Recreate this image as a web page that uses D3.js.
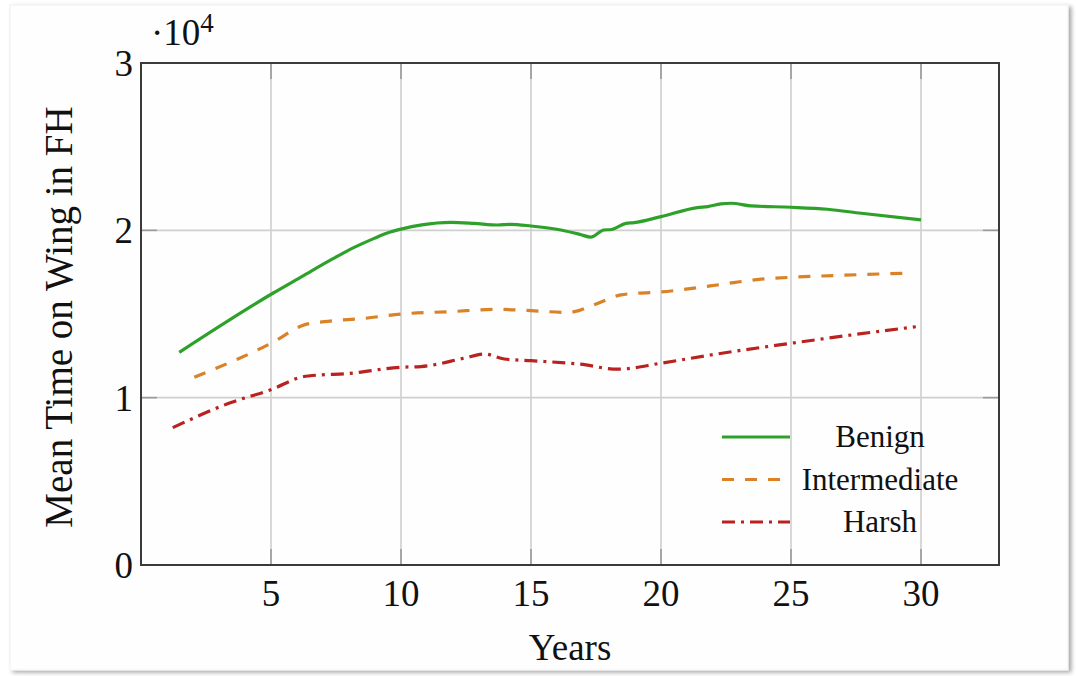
<!DOCTYPE html>
<html>
<head>
<meta charset="utf-8">
<script src="https://cdn.jsdelivr.net/npm/d3@7"></script>
<style>
  html, body { margin: 0; padding: 0; background: #fff; }
  svg { display: block; }
  text { font-family: "Liberation Serif", "Times New Roman", serif; fill: #111; }
</style>
</head>
<body>
<div id="chart"></div>
<script>
// values (y in units of 10^4 FH)
const benignYears = [1.47, 5.07, 6.2, 7.3, 8.2, 8.97, 9.5, 10, 10.8, 11.92, 12.8, 13.72, 14.2, 15, 16.15, 16.9, 17.3, 17.8, 18.1, 18.65, 18.97, 20, 21.4, 21.8, 22.3, 22.7, 23.46, 25, 26.4, 27.7, 30];
const benignValues = [1.271, 1.624, 1.725, 1.823, 1.898, 1.952, 1.985, 2.007, 2.033, 2.048, 2.042, 2.032, 2.036, 2.026, 2.002, 1.975, 1.959, 2.002, 2.005, 2.042, 2.046, 2.082, 2.136, 2.142, 2.158, 2.162, 2.146, 2.138, 2.126, 2.102, 2.062];

const intermediateYears = [2.05, 5.07, 6.28, 7.05, 8.6, 10, 11.9, 13.7, 15, 16.3, 16.67, 17.4, 18.46, 19.1, 20, 21.9, 23.85, 25.1, 27.05, 29.5];
const intermediateValues = [1.122, 1.331, 1.435, 1.454, 1.474, 1.500, 1.514, 1.528, 1.520, 1.510, 1.514, 1.554, 1.614, 1.624, 1.632, 1.668, 1.708, 1.720, 1.732, 1.744];

const harshYears = [1.22, 3.46, 5.07, 6.15, 6.9, 7.8, 10, 10.77, 12.43, 13.2, 13.97, 15, 16.9, 18.33, 20, 21.9, 25, 27.05, 29.8];
const harshValues = [0.821, 0.971, 1.052, 1.122, 1.136, 1.142, 1.182, 1.186, 1.236, 1.261, 1.231, 1.221, 1.200, 1.170, 1.206, 1.255, 1.325, 1.369, 1.424];

const seriesNames = ["Benign", "Intermediate", "Harsh"];
const xTicks = [5, 10, 15, 20, 25, 30];
const yTicks = [0, 1, 2, 3];

const width = 1076, height = 676;
const plot = { left: 141, right: 999, top: 63, bottom: 565 };

const svg = d3.select("#chart").append("svg")
    .attr("width", width)
    .attr("height", height);

// card with a soft shadow on the right / bottom
const defs = svg.append("defs");
const shadow = defs.append("filter").attr("id", "shadow")
    .attr("x", "-5%").attr("y", "-5%").attr("width", "110%").attr("height", "110%");
shadow.append("feDropShadow")
    .attr("dx", 3).attr("dy", 2).attr("stdDeviation", 2)
    .attr("flood-color", "#000").attr("flood-opacity", 0.35);

svg.append("rect")
    .attr("x", 10).attr("y", 5)
    .attr("width", 1058).attr("height", 665)
    .attr("fill", "#fefefe")
    .attr("stroke", "#f0f0f0")
    .attr("filter", "url(#shadow)");

const x = d3.scaleLinear().domain([0, 33]).range([plot.left, plot.right]);
const y = d3.scaleLinear().domain([0, 3]).range([plot.bottom, plot.top]);

// grid
const grid = svg.append("g");
grid.selectAll(".vgrid").data(xTicks).enter().append("line")
    .attr("x1", d => x(d)).attr("x2", d => x(d))
    .attr("y1", plot.top).attr("y2", plot.bottom)
    .attr("stroke", "#cfcfcf").attr("stroke-width", 1.6);
grid.selectAll(".hgrid").data(yTicks.filter(d => d > 0 && d < 3)).enter().append("line")
    .attr("x1", plot.left).attr("x2", plot.right)
    .attr("y1", d => y(d)).attr("y2", d => y(d))
    .attr("stroke", "#cfcfcf").attr("stroke-width", 1.6);

// inward tick marks on all four sides
const tickLen = 16;
const ticks = svg.append("g").attr("stroke", "#9a9a9a").attr("stroke-width", 1.6);
xTicks.forEach(t => {
    ticks.append("line").attr("x1", x(t)).attr("x2", x(t))
        .attr("y1", plot.bottom).attr("y2", plot.bottom - tickLen);
    ticks.append("line").attr("x1", x(t)).attr("x2", x(t))
        .attr("y1", plot.top).attr("y2", plot.top + tickLen);
});
yTicks.filter(d => d > 0 && d < 3).forEach(t => {
    ticks.append("line").attr("x1", plot.left).attr("x2", plot.left + tickLen)
        .attr("y1", y(t)).attr("y2", y(t));
    ticks.append("line").attr("x1", plot.right).attr("x2", plot.right - tickLen)
        .attr("y1", y(t)).attr("y2", y(t));
});

// series
const series = [
    { name: seriesNames[0], xs: benignYears, ys: benignValues, color: "#2ea12a", dash: null },
    { name: seriesNames[1], xs: intermediateYears, ys: intermediateValues, color: "#d98228", dash: "12,11" },
    { name: seriesNames[2], xs: harshYears, ys: harshValues, color: "#b8231f", dash: "13,6,3,6" }
];

const line = d3.line()
    .curve(d3.curveMonotoneX)
    .x(d => x(d[0]))
    .y(d => y(d[1]));

svg.append("g").selectAll("path")
    .data(series)
    .enter()
    .append("path")
    .attr("d", s => line(s.xs.map((v, i) => [v, s.ys[i]])))
    .attr("fill", "none")
    .attr("stroke", s => s.color)
    .attr("stroke-width", 3.2)
    .attr("stroke-linejoin", "round")
    .attr("stroke-dasharray", s => s.dash);

// frame
svg.append("rect")
    .attr("x", plot.left).attr("y", plot.top)
    .attr("width", plot.right - plot.left)
    .attr("height", plot.bottom - plot.top)
    .attr("fill", "none")
    .attr("stroke", "#3a3a3a")
    .attr("stroke-width", 2);

// tick labels
svg.append("g").selectAll("text")
    .data(xTicks).enter().append("text")
    .attr("x", d => x(d))
    .attr("y", 606)
    .attr("text-anchor", "middle")
    .attr("font-size", 37)
    .text(d => d);

svg.append("g").selectAll("text")
    .data(yTicks).enter().append("text")
    .attr("x", 133)
    .attr("y", d => y(d) + 13)
    .attr("text-anchor", "end")
    .attr("font-size", 37)
    .text(d => d);

// scale factor label
const mult = svg.append("text")
    .attr("x", 151)
    .attr("y", 45)
    .attr("font-size", 37);
mult.append("tspan").text("\u00b710");
mult.append("tspan").attr("dy", -13).attr("font-size", 27).text("4");

// axis labels
svg.append("text")
    .attr("x", 570)
    .attr("y", 660)
    .attr("text-anchor", "middle")
    .attr("font-size", 37)
    .text("Years");

svg.append("text")
    .attr("transform", "translate(72,317) rotate(-90)")
    .attr("text-anchor", "middle")
    .attr("font-size", 39)
    .text("Mean Time on Wing in FH");

// legend (no box)
const legend = svg.append("g");
series.forEach((s, i) => {
    const ly = 437 + i * 42.5;
    legend.append("line")
        .attr("x1", 722).attr("x2", 790)
        .attr("y1", ly).attr("y2", ly)
        .attr("stroke", s.color)
        .attr("stroke-width", 3.2)
        .attr("stroke-dasharray", s.dash);
    legend.append("text")
        .attr("x", 880)
        .attr("y", ly + 10)
        .attr("text-anchor", "middle")
        .attr("font-size", 31)
        .text(s.name);
});
</script>
</body>
</html>
